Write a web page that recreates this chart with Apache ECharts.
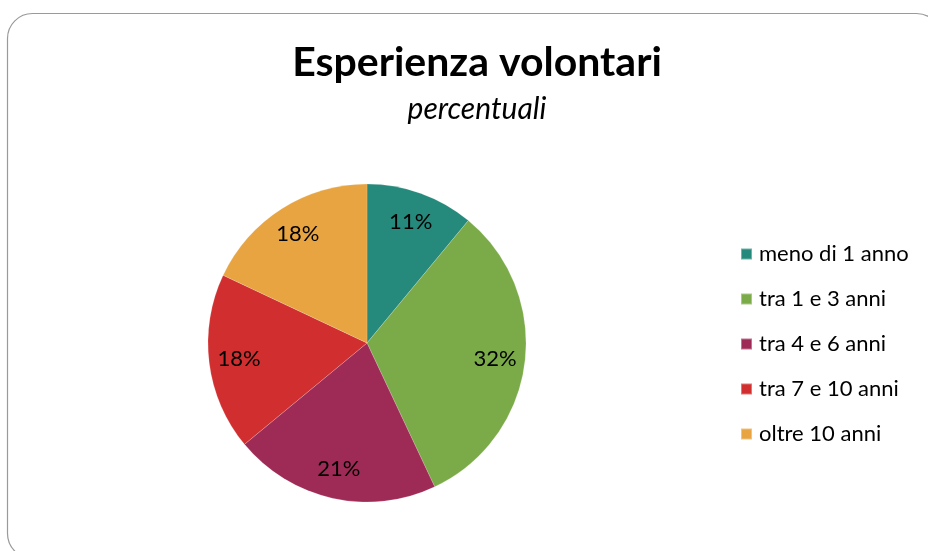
<!DOCTYPE html>
<html lang="it">
<head>
    <meta charset="UTF-8">
    <title>Esperienza volontari</title>
    <script src="https://cdn.jsdelivr.net/npm/echarts@6/dist/echarts.min.js"></script>
    <style>
        html, body { margin: 0; padding: 0; background: #fff; }
    </style>
</head>
<body>
    <div id="main" style="width: 928px;height:551px;"></div>
    <script>
        // categorie e valori (percentuali)
        let categorie = ['meno di 1 anno', 'tra 1 e 3 anni', 'tra 4 e 6 anni', 'tra 7 e 10 anni', 'oltre 10 anni'];
        let valori = [11, 32, 21, 18, 18];
        let colori = ['#25897b', '#7aab48', '#9e2a56', '#d02e2f', '#e7a440'];

        let dati = categorie.map(function (nome, i) {
            return { name: nome, value: valori[i] };
        });

        var myChart = echarts.init(document.getElementById('main'));

        var option = {
            animation: false,
            color: colori,
            title: {
                text: 'Esperienza volontari',
                subtext: 'percentuali',
                left: 472,
                textAlign: 'center',
                top: 37,
                itemGap: 11,
                textStyle: {
                    fontFamily: 'Lato',
                    fontWeight: 'bold',
                    fontSize: 41,
                    color: '#000'
                },
                subtextStyle: {
                    fontFamily: 'Lato',
                    fontStyle: 'italic',
                    fontSize: 30,
                    color: '#000'
                }
            },
            // cornice arrotondata
            graphic: [{
                type: 'rect',
                shape: { x: 7.5, y: 13.5, width: 934, height: 545, r: 25 },
                style: { fill: 'none', stroke: '#9a9a9a', lineWidth: 1.2 },
                silent: true
            }],
            legend: {
                orient: 'vertical',
                left: 735,
                top: 238,
                icon: 'rect',
                itemWidth: 11,
                itemHeight: 11,
                itemGap: 23,
                data: categorie,
                textStyle: {
                    fontFamily: 'Lato',
                    fontSize: 22,
                    lineHeight: 21,
                    color: '#000',
                    padding: [0, 0, 0, 2]
                }
            },
            series: [
                {
                    name: 'Esperienza',
                    type: 'pie',
                    center: [367, 343],
                    radius: [0, 159],
                    startAngle: 90,
                    clockwise: true,
                    label: { show: false },
                    labelLine: { show: false },
                    itemStyle: { borderColor: 'rgba(255,255,255,0.35)', borderWidth: 0.5 },
                    data: dati
                },
                {
                    // serie trasparente usata solo per posizionare le etichette
                    name: 'etichette',
                    type: 'pie',
                    center: [367, 343],
                    radius: [0, 252],
                    startAngle: 90,
                    clockwise: true,
                    silent: true,
                    legendHoverLink: false,
                    itemStyle: { color: 'rgba(0,0,0,0)' },
                    label: {
                        show: true,
                        position: 'inside',
                        formatter: '{c}%',
                        fontFamily: 'Lato',
                        fontSize: 22,
                        color: '#000'
                    },
                    labelLine: { show: false },
                    data: dati
                }
            ]
        };

        myChart.setOption(option);
    </script>
</body>
</html>
